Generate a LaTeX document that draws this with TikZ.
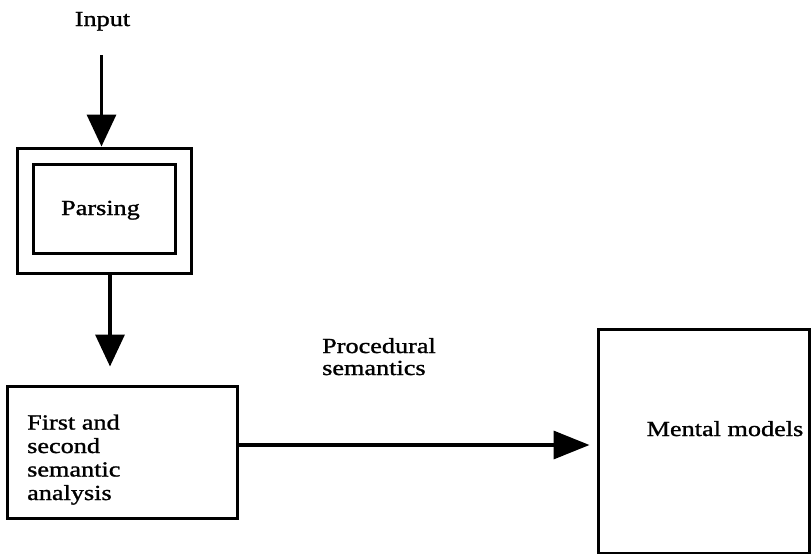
\documentclass[tikz,border=0pt]{standalone}
\usepackage{fontspec}
\setmainfont{Liberation Serif}[FakeStretch=1.22,FakeBold=1.2]
\usetikzlibrary{arrows.meta}
\begin{document}
\begin{tikzpicture}[x=1pt,y=-1pt,
  box/.style={draw, line width=3pt, rectangle, inner sep=0pt},
  txt/.style={inner sep=0pt, font=\fontsize{21.5}{23.5}\selectfont},
  arr/.style={line width=3.5pt},
  tipv/.style={-{Triangle[length=32pt,width=29pt]}},
  tiph/.style={-{Triangle[length=36pt,width=28pt]}}]
\useasboundingbox (0,0) rectangle (811,554);
% nodes
\node[txt, anchor=base] (input) at (102.5,26) {Input};
\node[box, minimum width=174pt, minimum height=125pt] (outer) at (104,210.5) {};
\node[box, minimum width=142pt, minimum height=89pt] (inner) at (104,208.5) {};
\node[txt, anchor=base] (parsing) at (100.5,215) {Parsing};
\node[box, minimum width=230pt, minimum height=132pt] (second) at (122,452) {};
\node[txt, anchor=base west, align=left] (secondtxt) at (27,500) {First and\\second\\semantic\\analysis};
\node[box, minimum width=211pt, minimum height=224pt] (mental) at (703.5,441) {};
\node[txt, anchor=base] (mentaltxt) at (725,436) {Mental models};
\node[txt, anchor=base west, align=left, font=\fontsize{21.5}{22}\selectfont] (proc) at (322,375) {Procedural\\semantics};
% connectors
\coordinate (a1) at (101.5,55);
\coordinate (a2) at (110,273);
\coordinate (a3) at (237,445);
\draw[arr,tipv] (a1) -- (a1 |- outer.north);
\draw[arr,tipv,shorten >=18pt] (a2) -- (a2 |- second.north);
\draw[arr,tiph,shorten >=7pt] (a3) -- (a3 -| mental.west);
\end{tikzpicture}
\end{document}
